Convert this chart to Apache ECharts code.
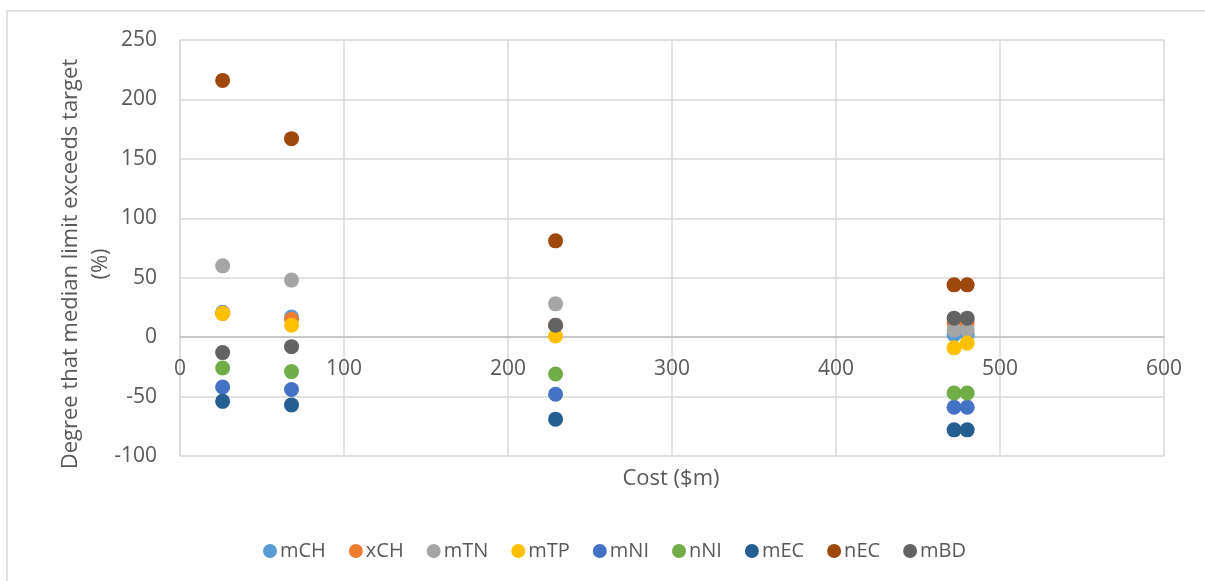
<!DOCTYPE html>
<html><head><meta charset="utf-8">
<script src="https://cdn.jsdelivr.net/npm/echarts@6/dist/echarts.min.js"></script>
<style>html,body{margin:0;padding:0;background:#fff}#c{width:1205px;height:581px}</style>
</head><body><div id="c"></div>
<script>
const costs = [26, 68, 229, 472, 480];
const seriesNames = ['mCH','xCH','mTN','mTP','mNI','nNI','mEC','nEC','mBD'];
const mCH = [21, 17, 10, 2, 2];
const xCH = [20, 15, 10, 12, 12];
const mTN = [60, 48, 28, 6, 6];
const mTP = [20, 10, 1, -9, -5];
const mNI = [-42, -44, -48, -59, -59];
const nNI = [-26, -29, -31, -47, -47];
const mEC = [-54, -57, -69, -78, -78];
const nEC = [216, 167, 81, 44, 44];
const mBD = [-13, -8, 10, 16, 16];
const values = [mCH, xCH, mTN, mTP, mNI, nNI, mEC, nEC, mBD];
const colors = ['#5B9BD5','#ED7D31','#A5A5A5','#FFC000','#4472C4','#70AD47','#255E91','#9E480E','#636363'];
const xTitle = 'Cost ($m)';
const yTitle = 'Degree that median limit exceeds target\n(%)';

const font = 'Open Sans';
const chart = echarts.init(document.getElementById('c'));
chart.setOption({
  animation: false,
  color: colors,
  textStyle: {fontFamily: font},
  grid: {left: 180, right: 41, top: 40, bottom: 125, outerBoundsMode: 'none', containLabel: false},
  graphic: [
    {type: 'rect', shape: {x: 7, y: 11, width: 1220, height: 620}, style: {fill: 'none', stroke: '#d9d9d9', lineWidth: 1.5}, z: -1},
    {type: 'text', x: 86, y: 264, rotation: Math.PI/2, style: {text: yTitle, fontFamily: font, fontSize: 22, fill: '#595959', align: 'center', verticalAlign: 'middle', lineHeight: 30}},
    {type: 'text', x: 671, y: 479, style: {text: xTitle, fontFamily: font, fontSize: 22, fill: '#595959', align: 'center', verticalAlign: 'middle'}}
  ],
  legend: {
    top: 536, left: 258, itemWidth: 14, itemHeight: 14, itemGap: 23,
    icon: 'circle',
    textStyle: {fontFamily: font, fontSize: 20, color: '#595959', padding: [0,0,0,-2]},
    data: seriesNames
  },
  xAxis: {
    type: 'value', min: 0, max: 600, interval: 100,
    axisLine: {onZero: true, lineStyle: {color: '#bfbfbf', width: 1.5}},
    axisTick: {show: false},
    axisLabel: {fontFamily: font, fontSize: 21, color: '#595959', margin: -97},
    splitLine: {show: true, lineStyle: {color: '#d9d9d9', width: 1.5}}
  },
  yAxis: {
    type: 'value', min: -100, max: 250, interval: 50,
    axisLine: {show: true, lineStyle: {color: '#d9d9d9', width: 1.5}},
    axisTick: {show: false},
    axisLabel: {fontFamily: font, fontSize: 21, color: '#595959', margin: 23},
    splitLine: {show: true, lineStyle: {color: '#d9d9d9', width: 1.5}}
  },
  series: seriesNames.map((n, i) => ({
    name: n, type: 'scatter', symbol: 'circle', symbolSize: 15,
    itemStyle: {opacity: 1},
    data: costs.map((c, j) => [c, values[i][j]])
  }))
});
</script></body></html>
